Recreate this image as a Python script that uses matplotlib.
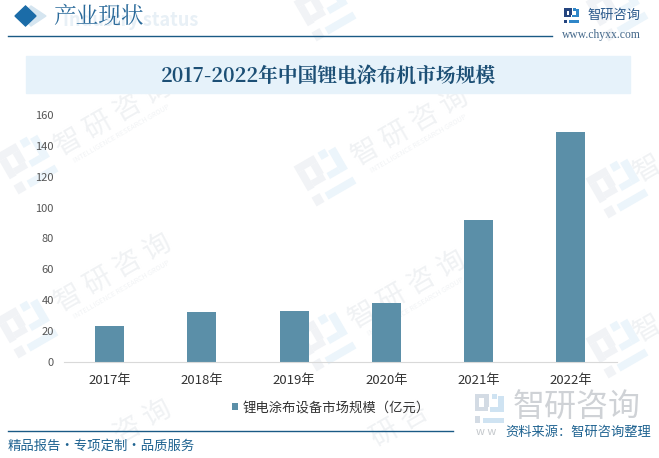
import matplotlib
matplotlib.use('Agg')
import matplotlib.pyplot as plt
from matplotlib.patches import Polygon, Rectangle
from matplotlib.transforms import Affine2D

plt.rcParams['font.family'] = ['Noto Sans CJK SC', 'DejaVu Sans']

years = ['2017年', '2018年', '2019年', '2020年', '2021年', '2022年']
market_size = [23, 32, 33, 38, 92, 149]
y_ticks = [0, 20, 40, 60, 80, 100, 120, 140, 160]

W, H = 659, 458
BAR = '#5b8fa8'
SERIF = ['Noto Serif CJK SC', 'Liberation Serif', 'Noto Sans CJK SC']

fig = plt.figure(figsize=(W / 100, H / 100), dpi=100)

# фон в пикселях, y вниз
bg = fig.add_axes([0, 0, 1, 1])
bg.set_xlim(0, W)
bg.set_ylim(H, 0)
bg.axis('off')


def logo(ax, cx, cy, s, left_color, right_color, angle=0, z=1):
    # значок из блоков: левая часть одного цвета, правая другого
    left = [(0, 0, 0.5, 0.17), (0, 0.17, 0.17, 0.45), (0.17, 0.45, 0.3, 0.15),
            (0.33, 0.17, 0.17, 0.28), (0, 0.78, 0.2, 0.22)]
    right = [(0.6, 0.0, 0.18, 0.18), (0.82, 0.08, 0.18, 0.55), (0.55, 0.48, 0.27, 0.15),
             (0.3, 0.83, 0.7, 0.17)]
    rot = Affine2D().rotate_deg_around(cx, cy, -angle) + ax.transData
    for parts, color in [(left, left_color), (right, right_color)]:
        for px, py, pw, ph in parts:
            ax.add_patch(Rectangle((cx - s / 2 + px * s, cy - s / 2 + py * s), pw * s, ph * s,
                                   color=color, lw=0, transform=rot, zorder=z))


# водяные знаки
for wx, wy in [(113, 117), (113, 273), (410, 127), (407, 290)]:
    bg.text(wx, wy, '智 研 咨 询', fontsize=20, color='#f0f2f4', rotation=30,
            ha='center', va='center', zorder=0)
    bg.text(wx + 9, wy + 17, 'INTELLIGENCE RESEARCH GROUP', fontsize=5, color='#f1f3f5', rotation=30,
            ha='center', va='center', zorder=0)
# нижний ряд виден только частично
for wx, wy, part in [(143, 422, '咨 询'), (400, 425, '研 咨')]:
    bg.text(wx, wy, part, fontsize=20, color='#f0f2f4', rotation=30, ha='center', va='center', zorder=0)
for wx, wy in [(648, 168), (648, 328)]:
    bg.text(wx, wy, '智', fontsize=20, color='#f0f2f4', rotation=30, ha='center', va='center', zorder=0)
for lx, ly in [(27, 163), (27, 327), (325, 175), (325, 340), (617, 187), (617, 347), (325, 10), (617, 10)]:
    logo(bg, lx, ly, 46, '#f1f3f6', '#ecf5fb', angle=30, z=0)

# шапка
bg.add_patch(Polygon([(31, 6), (46, 16), (31, 26), (21, 16)], color='#d5e5f0', zorder=1))
bg.add_patch(Polygon([(25.5, 6), (36, 16), (25.5, 26), (15, 16)], color='#1b6ca8', zorder=2))
bg.text(63, 21, 'Industry status', fontsize=13, color='#e8f0f6', fontweight='bold',
        va='center', zorder=1)
bg.text(53, 16, '产业现状', fontsize=16.3, color='#2a6a9a', family=SERIF, va='center', zorder=2)
bg.plot([8, 552], [36, 36], color='#1a5a85', lw=1, zorder=2)

logo(bg, 571.5, 15.5, 15, '#25457f', '#2f86c8', z=2)
bg.text(587, 15, '智研咨询', fontsize=9.5, color='#2c5a8c', va='center', zorder=2)
bg.text(562, 35, 'www.chyxx.com', fontsize=8.4, color='#44688a', family='Liberation Serif',
        va='center', zorder=2)

# полоса заголовка
bg.add_patch(Rectangle((26, 56), 604, 37, color='#e6f2fa', zorder=1))
bg.text(328, 76.5, '2017-2022年中国锂电涂布机市场规模', fontsize=14.2, color='#1c4f75',
        family=SERIF, fontweight='bold', ha='center', va='center', zorder=2)

# подвал
bg.plot([8, 453], [431, 431], color='#1a5a85', lw=1, zorder=2)
bg.text(8, 446, '精品报告·专项定制·品质服务', fontsize=9.6, color='#1f6391', va='center', zorder=2)
logo(bg, 489, 408, 29, '#d3dbe4', '#cfe3f2', z=1)
bg.text(513, 407, '智研咨询', fontsize=23, color='#cfd2d6', va='center', zorder=1)
bg.text(476, 432, 'w w', fontsize=8, color='#c4c8cc', va='center', zorder=1)
bg.text(505, 432, '资料来源：智研咨询整理', fontsize=9.5, color='#1f6391', va='center', zorder=2)

# сам график
ax = fig.add_axes([63.5 / W, 1 - 361.7 / H, 553.5 / W, 246.7 / H])
ax.patch.set_alpha(0)
positions = list(range(len(years)))
ax.bar(positions, market_size, width=0.315, color=BAR, label='锂电涂布设备市场规模（亿元）')
ax.set_xlim(-0.5, 5.5)
ax.set_ylim(0, 160)
ax.set_xticks(positions)
ax.set_xticklabels(years, fontsize=9.5, color='#333333')
ax.set_yticks(y_ticks)
ax.tick_params(axis='y', labelsize=8, labelcolor='#555555', length=0, pad=7)
ax.tick_params(axis='x', length=0, pad=9)
for side in ['top', 'right', 'left']:
    ax.spines[side].set_visible(False)
ax.spines['bottom'].set_color('#d9d9d9')

fig.legend(loc='center', bbox_to_anchor=(331 / W, 1 - 407.5 / H), frameon=False, fontsize=9.6,
           handlelength=0.45, handleheight=0.45, handletextpad=0.35, labelcolor='#333333')

fig.savefig('out.png', dpi=100)
